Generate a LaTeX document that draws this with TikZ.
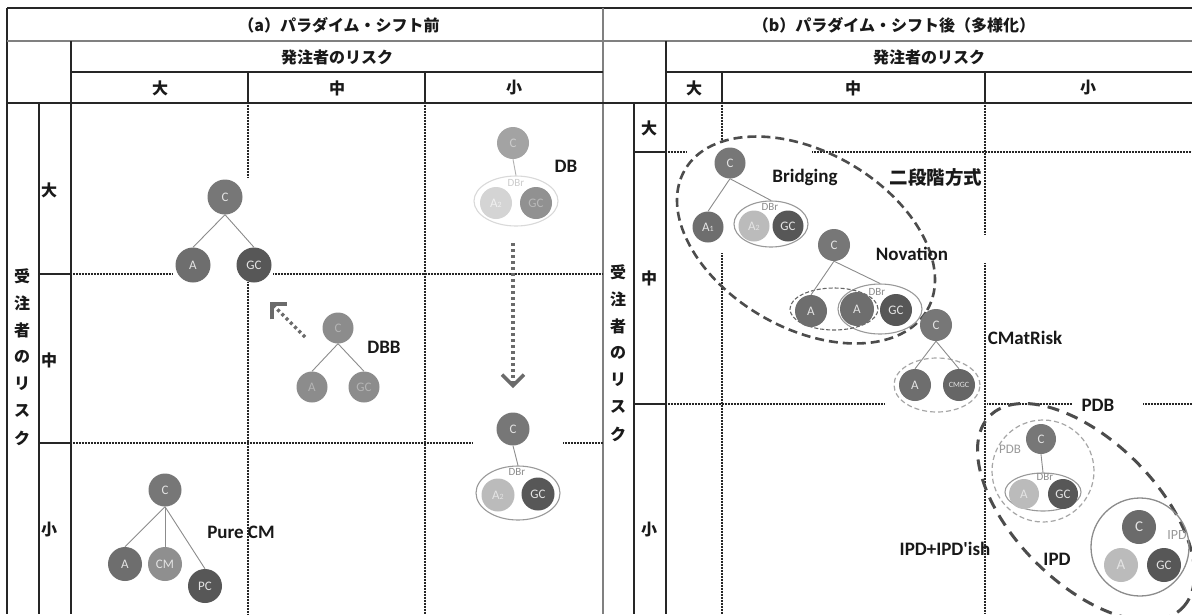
\documentclass[tikz,border=0pt]{standalone}
\usepackage{fontspec}
\setmainfont{Carlito}
\newfontfamily\jp{Noto Sans CJK JP}
\usetikzlibrary{arrows.meta,shapes.geometric}
\definecolor{cC}{HTML}{777777}
\definecolor{cA}{HTML}{6E6E6E}
\definecolor{cG}{HTML}{575757}
\definecolor{cL}{HTML}{BBBBBB}
\definecolor{cCM}{HTML}{8F8F8F}
\definecolor{cT}{HTML}{E4E4E4}
\definecolor{fd}{HTML}{8C8C8C}
\definecolor{fdT}{HTML}{B4B4B4}
\newcommand\mysub[1]{{\fontsize{8}{8}\selectfont #1}}
\begin{document}
\begin{tikzpicture}[x=1pt,y=-1pt,
  solidln/.style={line width=2pt, draw=black!85},
  grayln/.style={line width=1.6pt, draw=black!50},
  dotln/.style={line width=1.4pt, draw=black!85, dash pattern=on 0.75pt off 0.75pt},
  nd/.style 2 args={circle, fill=#1, text=#2, minimum size=33pt, inner sep=0pt, font=\fontsize{13}{13}\selectfont},
  edge/.style={draw=black!45, line width=0.9pt},
  lbl/.style={font=\fontsize{19}{19}\selectfont\bfseries, text=black!90, inner sep=0pt},
  jpl/.style={font=\jp\bfseries\fontsize{16}{16}\selectfont, text=black!90, inner sep=0pt},
  dbr/.style={font=\fontsize{11}{11}\selectfont, text=black!45, inner sep=0pt},
  dbrE/.style={ellipse, draw=black!40, line width=1.1pt, inner sep=0pt},
  bigdash/.style={ellipse, draw=black!70, line width=2.6pt, dash pattern=on 9pt off 5pt, inner sep=0pt},
  lightdash/.style={draw=black!35, line width=1.2pt, dash pattern=on 5pt off 3pt, inner sep=0pt},
  dotarrow/.style={draw=black!58, line width=3.5pt, dash pattern=on 3pt off 3pt, -{Straight Barb[length=11pt,width=22pt,line width=3.5pt]}}
]
\useasboundingbox (0,0) rectangle (1192,614);
\fill[white] (0,0) rectangle (1192,614);

% ---------- table frame ----------
\draw[solidln] (7,8) -- (1192,8);
\draw[solidln] (7,8) -- (7,614);
\draw[grayln] (7,41) -- (1192,41);
\draw[grayln] (603,8) -- (603,614);
% left panel
\draw[solidln] (71,41) -- (71,614);
\draw[solidln] (71,72) -- (603,72);
\draw[solidln] (7,103) -- (603,103);
\draw[solidln] (248,72) -- (248,103);
\draw[solidln] (425,72) -- (425,103);
\draw[solidln] (39,103) -- (39,614);
\draw[solidln] (39,274) -- (71,274);
\draw[solidln] (39,443) -- (71,443);
% right panel
\draw[solidln] (666,41) -- (666,614);
\draw[solidln] (666,72) -- (1192,72);
\draw[solidln] (603,103) -- (1192,103);
\draw[solidln] (722,72) -- (722,103);
\draw[solidln] (985,72) -- (985,103);
\draw[solidln] (634,103) -- (634,614);
\draw[solidln] (634,152) -- (666,152);
\draw[solidln] (634,404) -- (666,404);

% dotted grid, left
\draw[dotln] (71,274) -- (172,274);
\draw[dotln] (273,274) -- (603,274);
\draw[dotln] (71,443) -- (472,443);
\draw[dotln] (563,443) -- (603,443);
\draw[dotln] (248,103) -- (248,178);
\draw[dotln] (248,282) -- (248,614);
\draw[dotln] (425,103) -- (425,614);
% dotted grid, right
\draw[dotln] (666,152) -- (687,152);
\draw[dotln] (812,152) -- (1192,152);
\draw[dotln] (666,404) -- (885,404);
\draw[dotln] (987,404) -- (1072,404);
\draw[dotln] (1143,404) -- (1192,404);
\draw[dotln] (722,103) -- (722,143);
\draw[dotln] (722,253) -- (722,614);
\draw[dotln] (985,103) -- (985,235);
\draw[dotln] (985,263) -- (985,614);

% ---------- header texts ----------
\node[jpl] (tA) at (339,25) {（a）パラダイム・シフト前};
\node[jpl] (tB) at (894,25) {（b）パラダイム・シフト後（多様化）};
\node[jpl] (hA) at (337,57) {発注者のリスク};
\node[jpl] (hB) at (929,57) {発注者のリスク};
\node[jpl] (hA1) at (160,88) {大};
\node[jpl] (hA2) at (337,88) {中};
\node[jpl] (hA3) at (514,88) {小};
\node[jpl] (hB1) at (694,88) {大};
\node[jpl] (hB2) at (853,88) {中};
\node[jpl] (hB3) at (1088,88) {小};
\foreach \ch [count=\i] in {受,注,者,の,リ,ス,ク} {
  \node[jpl] (vA\i) at (22,{276+27*(\i-1)}) {\ch};
  \node[jpl] (vB\i) at (618,{272+27*(\i-1)}) {\ch};
}
\node[jpl] (rA1) at (49,190) {大};
\node[jpl] (rA2) at (49,360) {中};
\node[jpl] (rA3) at (49,530) {小};
\node[jpl] (rB1) at (649,128) {大};
\node[jpl] (rB2) at (649,278) {中};
\node[jpl] (rB3) at (649,530) {小};

% ---------- left panel diagrams ----------
\node[nd={cC}{cT}, minimum size=35pt] (aC) at (225,197) {C};
\node[nd={cA}{cT}, minimum size=35pt] (aA) at (193,265) {A};
\node[nd={cG}{cT}, minimum size=35pt] (aGC) at (254,265) {GC};
\draw[edge] (aC.south) -- (aA.north);
\draw[edge] (aC.south) -- (aGC.north);

% DBB
\node[nd={fd}{fdT}, minimum size=31pt] (dbbC) at (338,328) {C};
\node[nd={fd}{fdT}, minimum size=31pt] (dbbA) at (312,387) {A};
\node[nd={fd}{fdT}, minimum size=31pt] (dbbGC) at (364,387) {GC};
\draw[edge] (dbbC.south) -- (dbbA.north);
\draw[edge] (dbbC.south) -- (dbbGC.north);
\node[lbl] (lDBB) at (384,347) {DBB};
\coordinate (ar1s) at (305,337);
\coordinate (ar1e) at (270,302);
\draw[dotarrow] (ar1s) -- (ar1e);

% DB (faded)
\node[dbrE, draw=black!15, minimum width=84pt, minimum height=50pt] (dbE) at (516,201) {};
\node[nd={black!36}{black!20}, minimum size=32pt] (dbC) at (513,143) {C};
\node[nd={black!17}{black!6}, minimum size=32pt] (dbA) at (496,203) {A\mysub{2}};
\node[nd={black!43}{black!28}, minimum size=32pt] (dbGC) at (536,203) {GC};
\node[dbr, text=black!20] (dbT) at (516,183) {DBr};
\draw[edge, draw=black!30] (dbC.south) -- (dbE.north);
\node[lbl] (lDB) at (566,166) {DB};
\coordinate (ar2s) at (513,243);
\coordinate (ar2e) at (513,388);
\draw[dotarrow] (ar2s) -- (ar2e);

% DB (result)
\node[dbrE, minimum width=84pt, minimum height=54pt] (db2E) at (518,493) {};
\node[nd={cC}{cT}, minimum size=33pt] (db2C) at (513,429) {C};
\node[nd={cL}{cT}, minimum size=33pt] (db2A) at (498,495) {A\mysub{2}};
\node[nd={cG}{cT}, minimum size=33pt] (db2GC) at (538,494) {GC};
\node[dbr] (db2T) at (517,472) {DBr};
\draw[edge] (db2C.south) -- (db2E.north);

% Pure CM
\node[nd={cC}{cT}, minimum size=33pt] (pcC) at (165,490) {C};
\node[nd={cA}{cT}, minimum size=34pt] (pcA) at (125,564) {A};
\node[nd={cCM}{cT}, minimum size=34pt] (pcCM) at (165,564) {CM};
\node[nd={cG}{cT}, minimum size=34pt] (pcPC) at (205,586) {PC};
\draw[edge] (pcC.south) -- (pcA.north);
\draw[edge] (pcC.south) -- (pcCM.north);
\draw[edge] (pcC.south) -- (pcPC.north);
\node[lbl] (lPCM) at (241,532) {Pure CM};

% ---------- right panel diagrams ----------
\node[bigdash, minimum width=280pt, minimum height=176pt, rotate=-30] (twoE) at (806,240) {};
\node[lbl, font=\jp\bfseries\fontsize{18.5}{18.5}\selectfont] (lTwo) at (936,177) {二段階方式};

% Bridging
\node[dbrE, minimum width=74pt, minimum height=46pt] (bE) at (771,224) {};
\node[nd={cC}{cT}, minimum size=31pt] (bC) at (730,163) {C};
\node[nd={cA}{cT}, minimum size=31pt] (bA1) at (708,227) {A\mysub{1}};
\node[nd={cL}{cT}, minimum size=31pt] (bA2) at (754,226) {A\mysub{2}};
\node[nd={cG}{cT}, minimum size=31pt] (bGC) at (788,226) {GC};
\node[dbr] (bT) at (770,207) {DBr};
\draw[edge] (bC.south) -- (bA1.north);
\draw[edge] (bC.south) -- (bE.north);
\node[lbl] (lBr) at (805,177) {Bridging};

% Novation
\node[dbrE, minimum width=84pt, minimum height=50pt] (nE) at (880,309) {};
\node[ellipse, draw=black!60, line width=1.1pt, dash pattern=on 4pt off 2pt, inner sep=0pt, minimum width=88pt, minimum height=42pt] (nD) at (834,309) {};
\node[nd={cC}{cT}, minimum size=32pt] (nC) at (834,245) {C};
\node[nd={cA}{cT}, minimum size=32pt] (nA1) at (811,311) {A};
\node[nd={cA}{cT}, minimum size=34pt] (nA2) at (857,309) {A};
\node[nd={cG}{cT}, minimum size=32pt] (nGC) at (896,310) {GC};
\node[dbr] (nT) at (877,292) {DBr};
\draw[edge] (nC.south) -- (nA1.north);
\draw[edge] (nC.south) -- (nE.north);
\node[lbl] (lNov) at (912,254) {Novation};

% CMatRisk
\node[ellipse, lightdash, minimum width=86pt, minimum height=54pt] (cmE) at (937,385) {};
\node[nd={cC}{cT}, minimum size=32pt] (cmC) at (936,325) {C};
\node[nd={cA}{cT}, minimum size=32pt] (cmA) at (915,385) {A};
\node[nd={black!60}{cT}, minimum size=32pt, font=\fontsize{8}{8}\selectfont] (cmGC) at (959,385) {CMGC};
\draw[edge] (cmC.south) -- (cmA.north);
\draw[edge] (cmC.south) -- (cmGC.north);
\node[lbl] (lCM) at (1025,338) {CMatRisk};

% PDB / IPD group
\node[bigdash, line width=3pt, dash pattern=on 12pt off 8pt, minimum width=272pt, minimum height=142pt, rotate=-45] (pdbE) at (1086,512) {};
\node[lbl] (lPDB) at (1098,405) {PDB};
\node[circle, lightdash, minimum size=102pt] (pD) at (1043,471) {};
\node[dbr, font=\fontsize{13}{13}\selectfont, text=black!40] (pT2) at (1010,449) {PDB};
\node[dbrE, minimum width=76pt, minimum height=38pt] (pE) at (1043,492) {};
\node[nd={cC}{cT}, minimum size=30pt] (pC) at (1041,439) {C};
\node[nd={cL}{cT}, minimum size=30pt] (pA) at (1024,494) {A};
\node[nd={cG}{cT}, minimum size=30pt] (pGC) at (1063,494) {GC};
\node[dbr] (pT) at (1045,477) {DBr};
\draw[edge] (pC.south) -- (pE.north);

\node[circle, draw=black!45, line width=1.3pt, minimum size=98pt, inner sep=0pt] (iE) at (1140,547) {};
\node[nd={black!58}{cT}, minimum size=34pt, font=\fontsize{15}{15}\selectfont] (iC) at (1139,527) {C};
\node[nd={cL}{cT}, minimum size=34pt, font=\fontsize{15}{15}\selectfont] (iA) at (1121,565) {A};
\node[nd={cG}{cT}, minimum size=34pt] (iGC) at (1164,565) {GC};
\node[dbr, font=\fontsize{14}{14}\selectfont, text=black!40] (iT) at (1177,535) {IPD};
\node[lbl] (lIPD) at (1057,559) {IPD};
\node[lbl] (lIPDish) at (945,549) {IPD+IPD\textquotesingle ish};
\end{tikzpicture}
\end{document}
